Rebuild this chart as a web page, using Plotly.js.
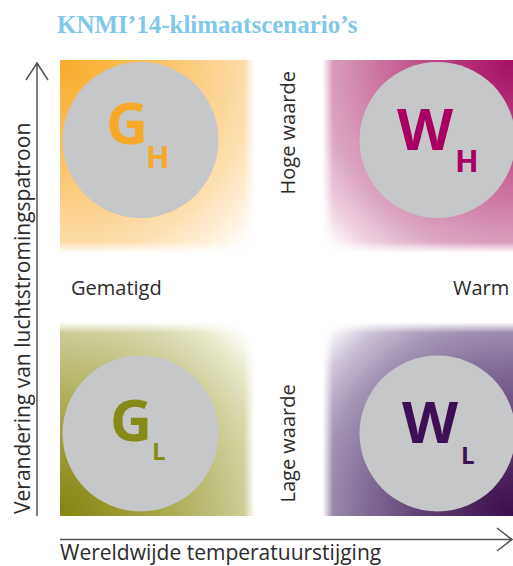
<!DOCTYPE html>
<html>
<head>
<meta charset="utf-8">
<script src="https://cdn.plot.ly/plotly-3.0.1.min.js"></script>
<style>html,body{margin:0;padding:0;background:#fff}#chart{width:513px;height:566px}</style>
</head>
<body>
<div id="chart"></div>
<script>
// ---------------- data ----------------
const temperatureLevels = ['Gematigd', 'Warm'];          // x categories
const airflowLevels = ['Lage waarde', 'Hoge waarde'];    // y categories
const scenarioLetter = ['G', 'W', 'G', 'W'];
const scenarioSub = ['H', 'H', 'L', 'L'];
const scenarioTemp = ['Gematigd', 'Warm', 'Gematigd', 'Warm'];
const scenarioAirflow = ['Hoge waarde', 'Hoge waarde', 'Lage waarde', 'Lage waarde'];
const titleText = 'KNMI’14-klimaatscenario’s';
const xTitleText = 'Wereldwijde temperatuurstijging';
const yTitleText = 'Verandering van luchtstromingspatroon';

// ---------------- styles ----------------
const scenarioColor = ['#f7a929', '#a80062', '#868a17', '#3d1056'];
const gradStops = [0, 0.3, 0.5, 0.68, 0.8, 0.9, 1];
const gradColors = [
  ['#f9ac2c', '#fbbf5a', '#fcd08a', '#fde0b0', '#feefd9', '#ffffff', '#ffffff'],
  ['#a50f63', '#bf4a86', '#cf7ea6', '#dca8c3', '#eed2e0', '#ffffff', '#ffffff'],
  ['#84840f', '#a2a23f', '#bbbb74', '#d3d3a2', '#e8e8cc', '#ffffff', '#ffffff'],
  ['#3a0c4c', '#5e3d72', '#806a94', '#a596b5', '#cdc3d7', '#ffffff', '#ffffff']
];
const letterShift = [[-14, 19], [-12, 13], [-10, 15], [-7, 13]];
const subShift = [[17, -16], [29, -20], [18, -17], [30, -21]];
const subSize = [31, 31, 24, 24];

// ---------------- geometry helpers ----------------
const W = 513, H = 566;
const M = {l: 60, r: 0, t: 60, b: 50};
const plotW = W - M.l - M.r, plotH = H - M.t - M.b;
const catPx = [140.5, 437.5];   // pixel x of the two temperature categories
const catPy = [433.5, 140];     // pixel y of the two airflow categories
const sx = catPx[1] - catPx[0], sy = catPy[0] - catPy[1];
const xd = px => (px - catPx[0]) / sx;
const yd = py => (catPy[0] - py) / sy;
const xp = px => (px - M.l) / plotW;          // paper coords
const yp = py => (M.t + plotH - py) / plotH;

const traces = [];
// quadrants with radial gradient from the outer corner
scenarioLetter.forEach((L, i) => {
  const xi = temperatureLevels.indexOf(scenarioTemp[i]);
  const yi = airflowLevels.indexOf(scenarioAirflow[i]);
  const ox = xi === 0 ? M.l : W - M.r, oy = yi === 1 ? M.t : M.t + plotH;
  const ix = xi === 0 ? 255 : 322, iy = yi === 1 ? 253 : 322;
  const gx = xi === 0 ? 1 : -1, gy = yi === 1 ? 1 : -1;
  const R = 290;
  const pts = [[ox, oy], [ox - gx * R, oy - gy * R], [ox, oy], [ix, oy], [ix, iy],
               [ox + gx * R, oy + gy * R], [ix, iy], [ox, iy], [ox, oy]];
  traces.push({
    type: 'scatter', mode: 'none', fill: 'toself',
    x: pts.map(p => xd(p[0])), y: pts.map(p => yd(p[1])),
    fillgradient: {type: 'radial', colorscale: gradStops.map((s, k) => [s, gradColors[i][k]])},
    line: {width: 0, simplify: false}, hoverinfo: 'skip', showlegend: false
  });
});
// soft white bands
const fadeScale = [[0, 'rgba(255,255,255,0)'], [0.12, 'rgba(255,255,255,1)'], [0.88, 'rgba(255,255,255,1)'], [1, 'rgba(255,255,255,0)']];
traces.push({
  type: 'scatter', mode: 'none', fill: 'toself',
  x: [244, 333, 333, 244, 244].map(xd), y: [516, 516, 60, 60, 516].map(yd),
  fillgradient: {type: 'horizontal', colorscale: fadeScale},
  line: {width: 0, simplify: false}, hoverinfo: 'skip', showlegend: false
});
traces.push({
  type: 'scatter', mode: 'none', fill: 'toself',
  x: [60, 513, 513, 60, 60].map(xd), y: [333, 333, 242, 242, 333].map(yd),
  fillgradient: {type: 'vertical', colorscale: fadeScale},
  line: {width: 0, simplify: false}, hoverinfo: 'skip', showlegend: false
});
// grey circles at scenario positions
traces.push({
  type: 'scatter', mode: 'markers',
  x: scenarioTemp.map(t => temperatureLevels.indexOf(t)),
  y: scenarioAirflow.map(a => airflowLevels.indexOf(a)),
  marker: {size: 156, color: '#c6c7c8', line: {width: 0}, opacity: 1},
  hoverinfo: 'skip', showlegend: false
});

const annotations = [];
const letterFont = 'Open Sans, sans-serif';
scenarioLetter.forEach((L, i) => {
  const x = temperatureLevels.indexOf(scenarioTemp[i]);
  const y = airflowLevels.indexOf(scenarioAirflow[i]);
  annotations.push({x, y, xref: 'x', yref: 'y', text: L, showarrow: false,
    xshift: letterShift[i][0], yshift: letterShift[i][1],
    font: {family: letterFont, size: 58, color: scenarioColor[i], weight: 700}});
  annotations.push({x, y, xref: 'x', yref: 'y', text: scenarioSub[i], showarrow: false,
    xshift: subShift[i][0], yshift: subShift[i][1],
    font: {family: letterFont, size: subSize[i], color: scenarioColor[i], weight: 700}});
});
const labelFont = {family: 'Open Sans, sans-serif', size: 20, color: '#2b2b2b'};
const titleFont = {family: 'Open Sans, sans-serif', size: 21, color: '#2b2b2b'};
annotations.push({x: xd(286.5), y: yd(133), xref: 'x', yref: 'y', text: airflowLevels[1], textangle: -90, showarrow: false, font: labelFont});
annotations.push({x: xd(286.5), y: yd(444), xref: 'x', yref: 'y', text: airflowLevels[0], textangle: -90, showarrow: false, font: labelFont});
annotations.push({x: xd(69), y: yd(287), xref: 'x', yref: 'y', text: temperatureLevels[0], xanchor: 'left', showarrow: false, font: labelFont});
annotations.push({x: xd(511), y: yd(287), xref: 'x', yref: 'y', text: temperatureLevels[1], xanchor: 'right', showarrow: false, font: labelFont});
annotations.push({x: xp(58), y: yp(552), xref: 'paper', yref: 'paper', text: xTitleText, xanchor: 'left', yanchor: 'middle', showarrow: false, font: titleFont});
annotations.push({x: xp(22), y: yp(319), xref: 'paper', yref: 'paper', text: yTitleText, textangle: -90, xanchor: 'center', yanchor: 'middle', showarrow: false, font: titleFont});

const arrowLine = {color: '#555555', width: 1.5};
const P = (px, py) => xp(px) + ',' + yp(py);
const shapes = [
  {type: 'path', xref: 'paper', yref: 'paper', line: arrowLine,
   path: 'M' + P(37, 516) + 'L' + P(37, 63) + 'M' + P(26, 80) + 'L' + P(37, 63) + 'L' + P(48, 80)},
  {type: 'path', xref: 'paper', yref: 'paper', line: arrowLine,
   path: 'M' + P(60, 539.5) + 'L' + P(512, 539.5) + 'M' + P(497, 528) + 'L' + P(512, 539.5) + 'L' + P(497, 551)}
];

const layout = {
  width: W, height: H, margin: M,
  paper_bgcolor: '#ffffff', plot_bgcolor: '#ffffff',
  showlegend: false, hovermode: false,
  title: {text: titleText, x: 57 / W, xanchor: 'left', xref: 'container', y: 1 - 24 / H, yanchor: 'middle', yref: 'container',
          font: {family: 'Liberation Serif, serif', size: 25, color: '#7fc8ea', weight: 700}},
  xaxis: {range: [xd(M.l), xd(W - M.r)], visible: false, fixedrange: true},
  yaxis: {range: [yd(M.t + plotH), yd(M.t)], visible: false, fixedrange: true},
  annotations, shapes
};
Plotly.newPlot('chart', traces, layout, {staticPlot: true, displayModeBar: false});
</script>
</body>
</html>
